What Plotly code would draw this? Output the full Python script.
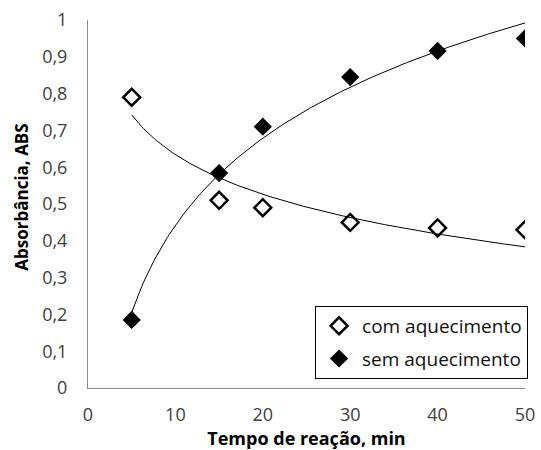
import numpy as np
import plotly.graph_objects as go

tempo = [5, 15, 20, 30, 40, 50]
com_aquecimento = [0.79, 0.51, 0.49, 0.45, 0.435, 0.43]
sem_aquecimento = [0.185, 0.584, 0.71, 0.845, 0.916, 0.95]
x_ticks = [0, 10, 20, 30, 40, 50]
y_ticks = [0, 0.1, 0.2, 0.3, 0.4, 0.5, 0.6, 0.7, 0.8, 0.9, 1]

def log_fit(x, y):
    lx = np.log(np.array(x, dtype=float))
    a, b = np.polyfit(lx, np.array(y, dtype=float), 1)
    xs = np.linspace(min(x), max(x), 200)
    return xs, a * np.log(xs) + b

fig = go.Figure()
for ys in (com_aquecimento, sem_aquecimento):
    xs, yf = log_fit(tempo, ys)
    fig.add_trace(go.Scatter(x=xs, y=yf, mode="lines", line=dict(color="black", width=1),
                             showlegend=False, hoverinfo="skip"))

fig.add_trace(go.Scatter(x=tempo, y=com_aquecimento, mode="markers", name="com aquecimento",
                         legendgroup="a",
                         marker=dict(symbol="diamond-open", size=13, color="black",
                                     line=dict(width=2.5, color="black"))))
fig.add_trace(go.Scatter(x=tempo, y=sem_aquecimento, mode="markers", name="sem aquecimento",
                         legendgroup="b",
                         marker=dict(symbol="diamond", size=14, color="black")))

font_family = "'Open Sans', sans-serif"
fig.update_layout(
    width=541, height=450,
    margin=dict(l=88, r=16, t=20, b=62),
    paper_bgcolor="white", plot_bgcolor="white",
    separators=",.",
    font=dict(family=font_family, color="#404040", size=18),
    legend=dict(x=1.007, y=0.223, xanchor="right", yanchor="top",
                bordercolor="black", borderwidth=1, bgcolor="white",
                font=dict(size=19, color="#111111"), itemwidth=36, tracegroupgap=5),
    xaxis=dict(range=[0, 50], tickvals=x_ticks, showgrid=False, zeroline=False,
               showline=True, linecolor="#898989", linewidth=1, ticks="",
               ticklabelstandoff=10, automargin=False,
               title=dict(text="<b>Tempo de reação, min</b>", font=dict(size=18, color="black"), standoff=6)),
    yaxis=dict(range=[0, 1], tickvals=y_ticks, showgrid=False, zeroline=False,
               showline=True, linecolor="#898989", linewidth=1, ticks="",
               ticklabelstandoff=16, automargin=False),
    annotations=[dict(text="<b>Absorbância, ABS</b>", xref="paper", yref="paper",
                      x=-0.154, y=0.519, xanchor="center", yanchor="middle", textangle=-90,
                      showarrow=False, font=dict(size=17, color="black"))],
)
fig.write_html("out.html", post_script="document.body.style.margin='0';",
               config={"displayModeBar": False})
